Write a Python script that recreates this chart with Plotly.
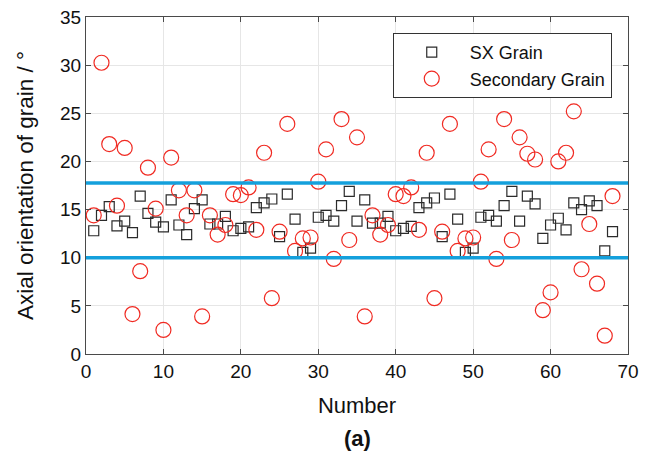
import plotly.graph_objects as go

numbers = list(range(1, 69))
sx_grain = [12.8, 14.4, 15.3, 13.3, 13.8, 12.6, 16.4, 14.6, 13.7, 13.2,
            16.0, 13.4, 12.4, 15.1, 16.0, 13.5, 13.5, 14.3, 12.8, 13.05,
            13.2, 15.2, 15.7, 16.1, 12.2, 16.6, 14.0, 10.55, 11.0, 14.2,
            14.4, 13.8, 15.4, 16.9, 13.8, 16.0, 13.6, 13.6, 14.3, 12.8,
            13.05, 13.25, 15.2, 15.7, 16.2, 12.2, 16.6, 14.0, 10.55, 11.0,
            14.2, 14.4, 13.8, 15.4, 16.9, 13.8, 16.4, 15.6, 12.0, 13.4,
            14.1, 12.9, 15.7, 15.0, 15.9, 15.4, 10.7, 12.7]
secondary_grain = [14.4, 30.25, 21.8, 15.4, 21.4, 4.15, 8.6, 19.35, 15.1, 2.5,
                   20.4, 17.0, 14.4, 17.0, 3.9, 14.4, 12.4, 13.4, 16.6, 16.5,
                   17.3, 12.9, 20.9, 5.8, 12.7, 23.9, 10.7, 12.0, 12.1, 17.9,
                   21.25, 9.87, 24.4, 11.84, 22.5, 3.9, 14.4, 12.4, 13.4, 16.6,
                   16.4, 17.3, 12.9, 20.9, 5.8, 12.7, 23.9, 10.7, 12.0, 12.1,
                   17.9, 21.25, 9.87, 24.4, 11.84, 22.5, 20.8, 20.2, 4.55, 6.4,
                   20.0, 20.9, 25.2, 8.8, 13.5, 7.3, 1.9, 16.4]
thresholds = [10.0, 17.75]
x_range = [0, 70]
y_range = [0, 35]

FONT = "Liberation Sans"
AXIS_COLOR = "#4a4a4a"
TEXT_COLOR = "#111111"

fig = go.Figure()
fig.add_trace(go.Scatter(
    x=numbers, y=sx_grain, mode="markers", name="SX Grain",
    marker=dict(symbol="square-open", size=10, color="#2b2b2b", line=dict(width=1.2)),
))
fig.add_trace(go.Scatter(
    x=numbers, y=secondary_grain, mode="markers", name="Secondary Grain",
    marker=dict(symbol="circle-open", size=15, color="#f02a22", line=dict(width=1.2)),
))
for t in thresholds:
    fig.add_shape(type="line", xref="x", yref="y", x0=x_range[0], x1=x_range[1],
                  y0=t, y1=t, line=dict(color="#14a0dc", width=3.5), layer="above")

axis_common = dict(
    showline=True, linecolor=AXIS_COLOR, linewidth=1, mirror="ticks",
    ticks="inside", ticklen=5, tickcolor=AXIS_COLOR, tickwidth=1,
    showgrid=True, gridcolor="#e6e6e6", gridwidth=1, zeroline=False,
    tickfont=dict(family=FONT, size=19, color=TEXT_COLOR),
    automargin=False, ticklabeloverflow="allow",
)
fig.update_xaxes(range=x_range, dtick=10,
                 title=dict(text="Number", font=dict(family=FONT, size=22, color=TEXT_COLOR), standoff=16),
                 **axis_common)
fig.update_yaxes(range=y_range, dtick=5,
                 title=dict(text="Axial orientation of grain / °", font=dict(family=FONT, size=22.5, color=TEXT_COLOR), standoff=20),
                 **axis_common)

fig.add_annotation(text="<b>(a)</b>", xref="paper", yref="paper", x=0.5, y=-0.25,
                   xanchor="center", yanchor="middle", showarrow=False,
                   font=dict(family=FONT, size=22, color=TEXT_COLOR))

# The page body adds an 8px offset, so the figure is 8px smaller and margins shifted.
fig.update_layout(
    width=646, height=449,
    margin=dict(l=78, r=26, t=9, b=103),
    paper_bgcolor="white", plot_bgcolor="white",
    showlegend=True,
    legend=dict(x=0.970, y=0.9525, xanchor="right", yanchor="top",
                bgcolor="white", bordercolor="#333333", borderwidth=1,
                font=dict(family=FONT, size=18, color=TEXT_COLOR),
                itemwidth=66, tracegroupgap=0),
)

fig.write_html("out.html")
